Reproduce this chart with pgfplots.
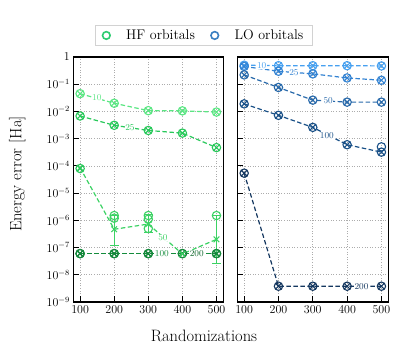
\documentclass[border=0pt]{standalone}
\usepackage{pgfplots}
\pgfplotsset{compat=1.18}
\definecolor{hfA}{HTML}{5AE682}
\definecolor{hfB}{HTML}{28C85A}
\definecolor{hfC}{HTML}{3CD264}
\definecolor{hfD}{HTML}{148C3C}
\definecolor{hfE}{HTML}{0A6428}
\definecolor{loA}{HTML}{46A0F0}
\definecolor{loB}{HTML}{3282D2}
\definecolor{loC}{HTML}{2869AA}
\definecolor{loD}{HTML}{195087}
\definecolor{loE}{HTML}{14375F}
\definecolor{hfleg}{HTML}{2ECC71}
\definecolor{loleg}{HTML}{3A7FC1}

\tikzset{
  mySer/.style={dashed, dash pattern=on 4.5pt off 2.5pt, line width=1.2pt,
    mark=otimes, mark size=4.2pt, mark options={solid, line width=1.1pt}},
  myLbl/.style={fill=white, inner sep=0.5pt, font=\fontsize{9}{10}\selectfont},
}

\begin{document}
\begin{tikzpicture}
\useasboundingbox (-73.3pt,-46pt) rectangle (334.7pt,302pt);

% HF orbitals
\begin{axis}[
  scale only axis, width=150pt, height=245pt, at={(0pt,0pt)},
  ymode=log, xmin=80, xmax=520, ymin=1e-9, ymax=1,
  xtick={100,200,300,400,500},
  ytick={1e-9,1e-8,1e-7,1e-6,1e-5,1e-4,1e-3,1e-2,1e-1,1},
  yticklabels={$10^{-9}$,$10^{-8}$,$10^{-7}$,$10^{-6}$,$10^{-5}$,$10^{-4}$,$10^{-3}$,$10^{-2}$,$10^{-1}$,$1$},
  yminorticks=false,
  tick align=inside, tick pos=left, major tick length=6pt,
  axis line style={line width=1.1pt},
  tick style={black, line width=0.9pt},
  grid=major, grid style={dash pattern=on 1pt off 1.6pt, gray!65, line width=0.7pt},
  ticklabel style={font=\fontsize{12}{13}\selectfont},
  legend columns=2,
  legend style={at={(0.871,1.088)}, anchor=center, draw=gray!35, line width=1.3pt,
    font=\fontsize{14}{16}\selectfont, column sep=14pt, inner xsep=7pt, inner ysep=2.5pt},
  legend cell align=left,
]
\addlegendimage{only marks, mark=o, mark size=3.8pt, line width=1.6pt, color=hfleg}
\addlegendentry{HF orbitals}
\addlegendimage{only marks, mark=o, mark size=3.8pt, line width=1.6pt, color=loleg}
\addlegendentry{LO orbitals}

\addplot[mySer, color=hfA, forget plot] coordinates {(100,0.045)(200,0.020)(300,0.0107)(400,0.0105)(500,0.0095)};
\addplot[mySer, color=hfB, forget plot] coordinates {(100,0.0068)(200,0.0031)(300,0.0020)(400,0.0016)(500,0.00047)};
\addplot[mySer, color=hfE, forget plot] coordinates {(100,6e-8)(200,6e-8)(300,6e-8)(400,6e-8)(500,6e-8)};
\addplot[mySer, color=hfD, forget plot] coordinates {(100,6e-8)(200,6e-8)(300,6e-8)(400,6e-8)(500,6e-8)};
\addplot[dashed, dash pattern=on 4.5pt off 2.5pt, line width=1.2pt, color=hfC, forget plot,
  mark=x, mark size=4pt, mark options={solid, line width=1.1pt},
  error bars/.cd, y dir=both, y explicit,
  error mark options={rotate=90, mark size=4.5pt, line width=1.1pt},
  error bar style={solid, line width=1.1pt}]
  coordinates {(100,8.5e-5)
  (200,4.7e-7) += (0,1.03e-6) -= (0,3.5e-7)
  (300,7.3e-7) += (0,0.87e-6) -= (0,3.8e-7)
  (400,5.8e-8)
  (500,2.0e-7) += (0,1.3e-6) -= (0,1.75e-7)};
\addplot[only marks, mark=o, mark size=4.2pt, line width=1.1pt, color=hfC, forget plot]
  coordinates {(200,1.5e-6)(200,1.2e-6)(300,1.5e-6)(300,1.1e-6)(300,5e-7)(500,1.5e-6)};
\addplot[only marks, mark=otimes, mark size=4.2pt, line width=1.1pt, color=hfB, forget plot]
  coordinates {(100,8e-5)};

\node[myLbl, text=hfA] at (axis cs:149,0.032) {10};
\node[myLbl, text=hfB] at (axis cs:246,0.0025) {25};
\node[myLbl, text=hfC] at (axis cs:343,2.3e-7) {50};
\node[myLbl, text=hfD] at (axis cs:340,6e-8) {100};
\node[myLbl, text=hfE] at (axis cs:442,6e-8) {200};
\end{axis}

% LO orbitals
\begin{axis}[
  scale only axis, width=151pt, height=245pt, at={(164pt,0pt)},
  ymode=log, xmin=80, xmax=520, ymin=1e-9, ymax=1,
  xtick={100,200,300,400,500},
  ytick={1e-9,1e-8,1e-7,1e-6,1e-5,1e-4,1e-3,1e-2,1e-1,1},
  yticklabels={},
  yminorticks=false,
  tick align=inside, tick pos=left, major tick length=6pt,
  axis line style={line width=1.1pt},
  tick style={black, line width=0.9pt},
  grid=major, grid style={dash pattern=on 1pt off 1.6pt, gray!65, line width=0.7pt},
  ticklabel style={font=\fontsize{12}{13}\selectfont},
]
\addplot[mySer, color=loA] coordinates {(100,0.50)(200,0.48)(300,0.48)(400,0.48)(500,0.47)};
\addplot[mySer, color=loB] coordinates {(100,0.45)(200,0.30)(300,0.24)(400,0.17)(500,0.14)};
\addplot[mySer, color=loC] coordinates {(100,0.22)(200,0.076)(300,0.026)(400,0.022)(500,0.022)};
\addplot[mySer, color=loD] coordinates {(100,0.019)(200,0.0072)(300,0.0026)(400,0.0006)(500,0.00032)};
\addplot[only marks, mark=o, mark size=4.2pt, line width=1.1pt, color=loD] coordinates {(500,0.0005)};
\addplot[mySer, color=loE] coordinates {(100,5.4e-5)(200,3.8e-9)(300,3.8e-9)(400,3.8e-9)(500,3.8e-9)};

\node[myLbl, text=loA] at (axis cs:151,0.49) {10};
\node[myLbl, text=loB] at (axis cs:245,0.27) {25};
\node[myLbl, text=loC] at (axis cs:345,0.025) {50};
\node[myLbl, text=loD] at (axis cs:341,0.00134) {100};
\node[myLbl, text=loE] at (axis cs:442,3.8e-9) {200};
\end{axis}

\node[font=\fontsize{16.5}{18}\selectfont] at (130.7pt,-34pt) {Randomizations};
\node[font=\fontsize{16.5}{18}\selectfont, rotate=90] at (-56pt,128pt) {Energy error [Ha]};
\end{tikzpicture}
\end{document}
